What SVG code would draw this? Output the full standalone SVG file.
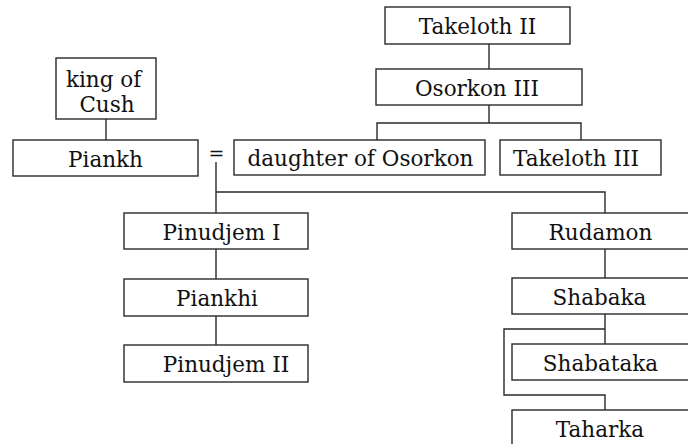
<svg xmlns="http://www.w3.org/2000/svg" width="688" height="444" viewBox="0 0 688 444">
<style>
.box{fill:#fff;stroke:#2a2a2a;stroke-width:1.4}
.lbl{font-family:"DejaVu Serif",serif;font-size:21.5px;fill:#111;text-anchor:middle}
.eq{font-family:"DejaVu Serif",serif;font-size:19px;fill:#111;text-anchor:middle}
.con{fill:none;stroke:#2a2a2a;stroke-width:1.4}
</style>
<rect width="688" height="444" fill="#fff"/>
<g id="connectors">
<path class="con" d="M489 44V69"/>
<path class="con" d="M489 105V123M377 140V123H581V140"/>
<path class="con" d="M106 119V140"/>
<path class="con" d="M216 162V213"/>
<path class="con" d="M216 192H605V213"/>
<path class="con" d="M216 249V279M216 316V345"/>
<path class="con" d="M605 249V278M605 314V344"/>
<path class="con" d="M605 329H504V395H605V410"/>
</g>
<g id="takeloth2"><rect class="box" x="385" y="7" width="185" height="37"/><text class="lbl" x="477.5" y="34">Takeloth II</text></g>
<g id="osorkon3"><rect class="box" x="376" y="69" width="206" height="36"/><text class="lbl" x="477" y="95.5">Osorkon III</text></g>
<g id="daughter"><rect class="box" x="234" y="140" width="251" height="35"/><text class="lbl" x="360.5" y="166">daughter of Osorkon</text></g>
<g id="takeloth3"><rect class="box" x="500" y="140" width="161" height="35"/><text class="lbl" x="576" y="166">Takeloth III</text></g>
<g id="kingcush"><rect class="box" x="56" y="58" width="100" height="61"/><text class="lbl" x="103.5" y="87">king of</text><text class="lbl" x="107" y="112">Cush</text></g>
<g id="piankh"><rect class="box" x="13" y="140" width="185" height="36"/><text class="lbl" x="105.5" y="167">Piankh</text></g>
<g id="equals"><text class="eq" x="216.5" y="160">=</text></g>
<g id="pinudjem1"><rect class="box" x="124" y="213" width="184" height="36"/><text class="lbl" x="221.5" y="240">Pinudjem I</text></g>
<g id="piankhi"><rect class="box" x="124" y="279" width="184" height="37"/><text class="lbl" x="217" y="306">Piankhi</text></g>
<g id="pinudjem2"><rect class="box" x="124" y="345" width="184" height="37"/><text class="lbl" x="226" y="372">Pinudjem II</text></g>
<g id="rudamon"><rect class="box" x="512" y="213" width="200" height="36"/><text class="lbl" x="600.5" y="240">Rudamon</text></g>
<g id="shabaka"><rect class="box" x="512" y="278" width="200" height="36"/><text class="lbl" x="599.5" y="305">Shabaka</text></g>
<g id="shabataka"><rect class="box" x="512" y="344" width="200" height="36"/><text class="lbl" x="600.5" y="371">Shabataka</text></g>
<g id="taharka"><rect class="box" x="512" y="410" width="200" height="50"/><text class="lbl" x="600" y="437">Taharka</text></g>
</svg>
